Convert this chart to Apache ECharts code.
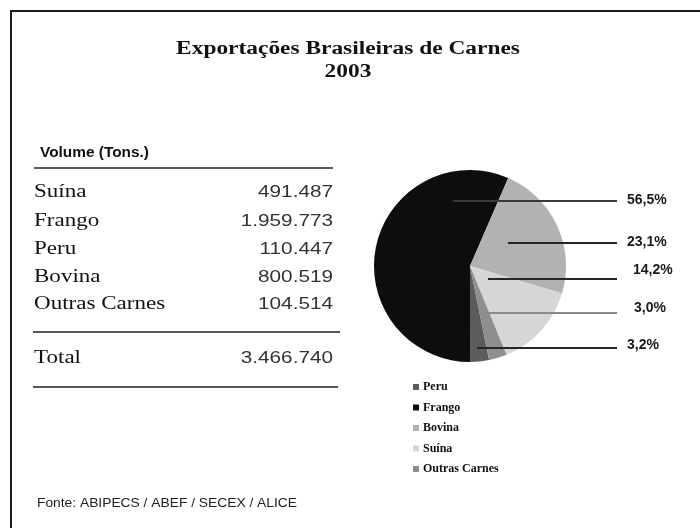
<!DOCTYPE html>
<html>
<head>
<meta charset="utf-8">
<script src="https://cdn.jsdelivr.net/npm/echarts@6/dist/echarts.min.js"></script>
<style>
  html, body { margin: 0; padding: 0; background: #ffffff; }
  #chart { width: 700px; height: 528px; }
</style>
</head>
<body>
<div id="chart"></div>
<script>
// Brazilian meat exports, 2003 — volume in tonnes
const tableCategories = ['Suína', 'Frango', 'Peru', 'Bovina', 'Outras Carnes'];
const tableVolumes = [491487, 1959773, 110447, 800519, 104514];
// slice / legend order of the pie
const pieCategories = ['Peru', 'Frango', 'Bovina', 'Suína', 'Outras Carnes'];

const titleLines = ['Exportações Brasileiras de Carnes', '2003'];
const tableHeader = 'Volume (Tons.)';
const totalLabel = 'Total';
const sourceNote = 'Fonte: ABIPECS / ABEF / SECEX / ALICE';

// ---- styling ----
const sliceColors = {
  'Peru': '#5c5c5c',
  'Frango': '#0d0d0d',
  'Bovina': '#b2b2b2',
  'Suína': '#d6d6d6',
  'Outras Carnes': '#8e8e8e'
};
const PIE = { cx: 470, cy: 266, r: 96 };
// leader lines: horizontal rule from inside the slice out to the label column
const LEADER_END_DX = 147;
const leaders = {
  'Frango':        { startDx: -17, lineDy: -65, textDx: 157, textDy: -66, color: '#3a3a3a' },
  'Bovina':        { startDx: 38,  lineDy: -23, textDx: 157, textDy: -24, color: '#262626' },
  'Suína':         { startDx: 18,  lineDy: 13,  textDx: 163, textDy: 4.5, color: '#262626' },
  'Outras Carnes': { startDx: 12,  lineDy: 47,  textDx: 164, textDy: 42.5, color: '#8a8a8a' },
  'Peru':          { startDx: 7,   lineDy: 82,  textDx: 157, textDy: 79.5, color: '#262626' }
};

function fmtThousands(n) {
  return String(n).replace(/\B(?=(\d{3})+(?!\d))/g, '.');
}

const totalVolume = tableVolumes.reduce((a, b) => a + b, 0);
const volumeOf = name => tableVolumes[tableCategories.indexOf(name)];

const pieData = pieCategories.map(name => ({
  name: name,
  value: volumeOf(name),
  itemStyle: { color: sliceColors[name] }
}));
// same slices again, unfilled and stacked above, carrying the percentage labels
const labelData = pieCategories.map(name => ({
  name: name,
  value: volumeOf(name),
  labelLine: { lineStyle: { color: leaders[name].color } }
}));

// ---- table and frame drawn as graphic elements ----
const SERIF = '"Liberation Serif", "Times New Roman", serif';
const SANS = '"Liberation Sans", Arial, sans-serif';
const rowY = [192.5, 221, 249, 277, 304];
const totalY = 358.5;
const nameX = 34, valueX = 333;

const graphics = [];
graphics.push({
  type: 'polyline', silent: true,
  shape: { points: [[11, 528], [11, 11], [700, 11]] },
  style: { stroke: '#1a1a1a', lineWidth: 2, fill: null }
});
titleLines.forEach((t, i) => {
  graphics.push({
    type: 'text', x: 348, y: i === 0 ? 49 : 72.5, scaleX: 1.3, silent: true,
    style: { text: t, fontFamily: SERIF, fontWeight: 'bold', fontSize: 18, fill: '#111', align: 'center', verticalAlign: 'middle' }
  });
});
graphics.push({
  type: 'text', x: 40, y: 153, scaleX: 1.1, silent: true,
  style: { text: tableHeader, fontFamily: SANS, fontWeight: 'bold', fontSize: 14, fill: '#111', align: 'left', verticalAlign: 'middle' }
});
[[34, 333, 168], [33, 340, 332], [33, 338, 387]].forEach(r => {
  graphics.push({
    type: 'line', silent: true,
    shape: { x1: r[0], y1: r[2], x2: r[1], y2: r[2] },
    style: { stroke: '#222', lineWidth: 1.3 }
  });
});
function addRow(label, value, y) {
  graphics.push({
    type: 'text', x: nameX, y: y, scaleX: 1.28, silent: true,
    style: { text: label, fontFamily: SERIF, fontSize: 18, fill: '#111', align: 'left', verticalAlign: 'middle' }
  });
  graphics.push({
    type: 'text', x: valueX, y: y, scaleX: 1.22, silent: true,
    style: { text: fmtThousands(value), fontFamily: SANS, fontSize: 17, fill: '#333', align: 'right', verticalAlign: 'middle' }
  });
}
tableCategories.forEach((c, i) => addRow(c, tableVolumes[i], rowY[i]));
addRow(totalLabel, totalVolume, totalY);
graphics.push({
  type: 'text', x: 37, y: 503.5, scaleX: 1.15, silent: true,
  style: { text: sourceNote, fontFamily: SANS, fontSize: 12, fill: '#222', align: 'left', verticalAlign: 'middle' }
});

const pieCommon = {
  type: 'pie',
  center: [PIE.cx, PIE.cy],
  radius: PIE.r,
  startAngle: -78.5,
  clockwise: true,
  avoidLabelOverlap: false,
  silent: true,
  emphasis: { disabled: true }
};

const chart = echarts.init(document.getElementById('chart'), null, { renderer: 'canvas' });
chart.setOption({
  backgroundColor: '#ffffff',
  animation: false,
  legend: {
    data: pieCategories,
    orient: 'vertical',
    left: 413,
    top: 381,
    padding: 0,
    itemWidth: 6,
    itemHeight: 6,
    itemGap: 8.5,
    icon: 'rect',
    selectedMode: false,
    textStyle: { fontFamily: SERIF, fontWeight: 'bold', fontSize: 12, lineHeight: 12, color: '#111', padding: [0, 0, 0, -1] }
  },
  graphic: graphics,
  series: [
    Object.assign({}, pieCommon, {
      name: 'Volume',
      z: 2,
      itemStyle: { borderWidth: 0 },
      data: pieData,
      label: { show: false },
      labelLine: { show: false }
    }),
    Object.assign({}, pieCommon, {
      name: 'Percentual',
      z: 5,
      itemStyle: { color: 'rgba(0,0,0,0)', borderWidth: 0 },
      data: labelData,
      label: {
        show: true,
        position: 'outside',
        fontFamily: SANS,
        fontWeight: 'bold',
        fontSize: 14,
        color: '#1a1a1a',
        formatter: p => p.percent.toFixed(1).replace('.', ',') + '%'
      },
      labelLine: { show: true, smooth: false, length: 10, length2: 10, lineStyle: { width: 1.8 } },
      labelLayout: function (p) {
        const name = pieCategories[p.dataIndex];
        const L = leaders[name];
        const yLine = PIE.cy + L.lineDy;
        return {
          x: PIE.cx + L.textDx,
          y: PIE.cy + L.textDy,
          align: 'left',
          verticalAlign: 'middle',
          labelLinePoints: [[PIE.cx + L.startDx, yLine], [PIE.cx + LEADER_END_DX, yLine]]
        };
      }
    })
  ]
});
</script>
</body>
</html>
